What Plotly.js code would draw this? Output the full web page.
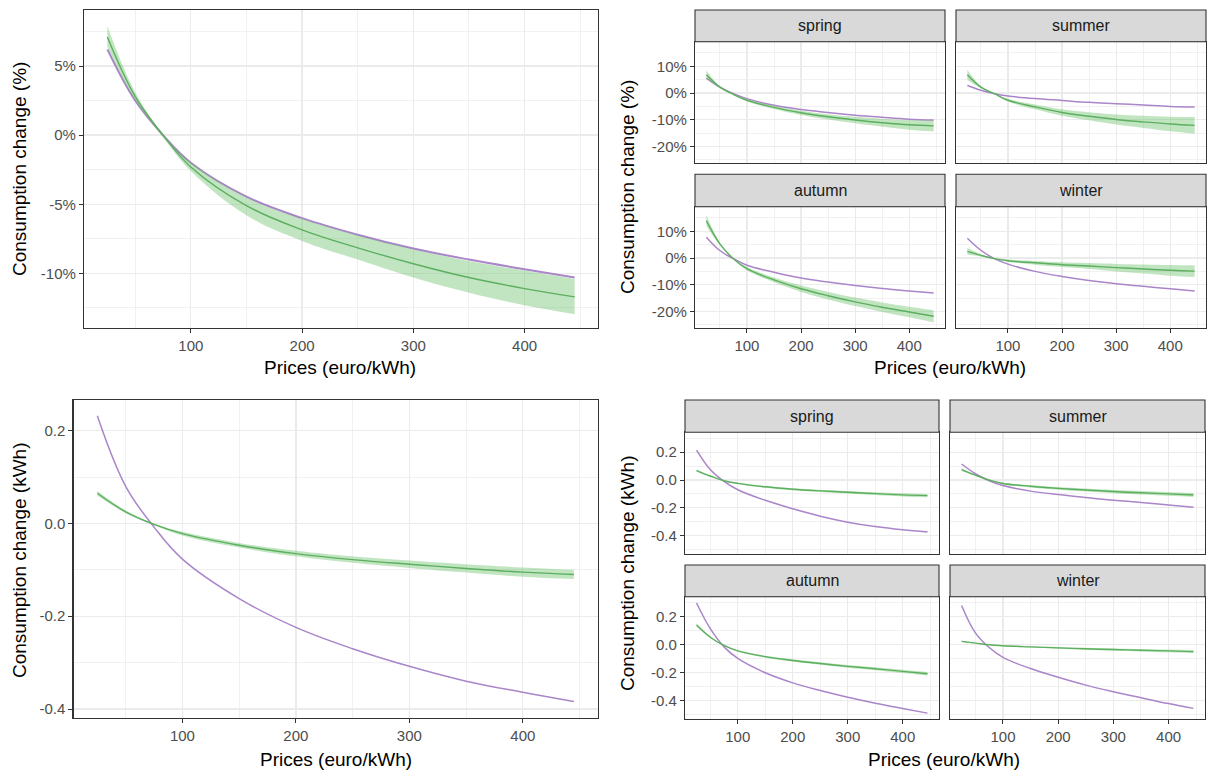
<!DOCTYPE html>
<html>
<head>
<meta charset="utf-8">
<script src="https://cdn.plot.ly/plotly-3.0.1.min.js"></script>
<style>html,body{margin:0;padding:0;background:#fff;}#chart{width:1209px;height:771px;}</style>
</head>
<body>
<div id="chart"></div>
<script>
// ---------------- DATA ----------------
const prices = [25, 50, 75, 100, 150, 200, 250, 300, 350, 400, 445];

// Consumption change (%) - all seasons
const pctAllPurple = [6.2, 2.5, 0.0, -2.0, -4.45, -6.0, -7.2, -8.2, -9.0, -9.7, -10.3];
const pctAllGreen  = [7.1, 2.8, 0.0, -2.3, -5.1, -6.85, -8.15, -9.3, -10.3, -11.1, -11.7];
const pctAllGreenLo = [6.4, 2.5, -0.15, -2.6, -5.8, -7.65, -9.0, -10.3, -11.4, -12.3, -12.95];
const pctAllGreenHi = [7.9, 3.1, 0.1, -1.95, -4.5, -6.05, -7.25, -8.25, -9.1, -9.8, -10.4];

// Consumption change (%) by season
const pctSpringPurple = [5.6, 2.2, -0.25, -2.1, -4.6, -6.2, -7.3, -8.3, -9.1, -9.8, -10.1];
const pctSpringGreen  = [6.8, 2.2, -0.5, -2.7, -5.4, -7.4, -8.9, -10.1, -11.1, -11.9, -12.3];
const pctSpringHalfWidth = [1.6, 0.3, 0.2, 0.4, 0.6, 0.8, 1.0, 1.2, 1.5, 1.8, 2.1];

const pctSummerPurple = [2.8, 1.0, -0.25, -1.1, -2.1, -2.8, -3.5, -4.0, -4.5, -5.0, -5.2];
const pctSummerGreen  = [6.8, 2.2, -0.25, -2.7, -5.2, -7.3, -8.7, -9.9, -10.8, -11.6, -12.1];
const pctSummerHalfWidth = [1.9, 0.4, 0.1, 0.5, 0.9, 1.2, 1.5, 1.9, 2.3, 2.7, 3.1];

const pctAutumnPurple = [7.8, 2.8, -0.25, -2.7, -5.3, -7.5, -9.0, -10.3, -11.4, -12.3, -13.1];
const pctAutumnGreen  = [14.0, 5.3, -0.25, -4.0, -8.2, -11.5, -14.1, -16.4, -18.4, -20.2, -21.8];
const pctAutumnHalfWidth = [2.0, 0.5, 0.2, 0.6, 0.9, 1.2, 1.4, 1.6, 1.8, 2.0, 2.3];

const pctWinterPurple = [7.4, 2.9, -0.25, -2.3, -5.0, -6.9, -8.4, -9.6, -10.6, -11.5, -12.3];
const pctWinterGreen  = [2.5, 1.0, -0.25, -1.0, -1.8, -2.5, -3.0, -3.6, -4.1, -4.6, -4.9];
const pctWinterHalfWidth = [1.3, 0.4, 0.1, 0.4, 0.7, 0.9, 1.1, 1.4, 1.7, 2.0, 2.2];

// Consumption change (kWh) - all seasons
const kwhAllPurple = [0.232, 0.08, -0.008, -0.077, -0.162, -0.224, -0.27, -0.308, -0.34, -0.364, -0.384];
const kwhAllGreen  = [0.065, 0.025, -0.002, -0.022, -0.047, -0.065, -0.078, -0.088, -0.097, -0.105, -0.110];
const kwhAllHalfWidth = [0.005, 0.003, 0.002, 0.004, 0.005, 0.006, 0.007, 0.008, 0.009, 0.01, 0.01];

// Consumption change (kWh) by season
const kwhSpringPurple = [0.215, 0.075, -0.01, -0.07, -0.146, -0.207, -0.26, -0.303, -0.335, -0.358, -0.373];
const kwhSpringGreen  = [0.068, 0.029, -0.005, -0.024, -0.049, -0.066, -0.078, -0.088, -0.098, -0.107, -0.112];
const kwhSpringHalfWidth = [0.008, 0.004, 0.002, 0.004, 0.006, 0.007, 0.008, 0.009, 0.010, 0.011, 0.012];

const kwhSummerPurple = [0.115, 0.045, -0.005, -0.04, -0.08, -0.105, -0.126, -0.145, -0.162, -0.18, -0.195];
const kwhSummerGreen  = [0.075, 0.035, 0.0, -0.025, -0.045, -0.06, -0.072, -0.083, -0.092, -0.1, -0.108];
const kwhSummerHalfWidth = [0.010, 0.005, 0.002, 0.005, 0.008, 0.010, 0.011, 0.012, 0.013, 0.014, 0.015];

const kwhAutumnPurple = [0.298, 0.115, -0.015, -0.098, -0.2, -0.272, -0.327, -0.375, -0.417, -0.455, -0.488];
const kwhAutumnGreen  = [0.141, 0.054, -0.005, -0.044, -0.085, -0.112, -0.134, -0.154, -0.171, -0.19, -0.207];
const kwhAutumnHalfWidth = [0.010, 0.005, 0.002, 0.005, 0.007, 0.008, 0.009, 0.010, 0.011, 0.012, 0.013];

const kwhWinterPurple = [0.28, 0.085, -0.02, -0.09, -0.17, -0.232, -0.288, -0.335, -0.378, -0.42, -0.454];
const kwhWinterGreen  = [0.024, 0.012, 0.0, -0.007, -0.015, -0.022, -0.029, -0.034, -0.039, -0.044, -0.049];
const kwhWinterHalfWidth = [0.004, 0.002, 0.001, 0.003, 0.005, 0.006, 0.007, 0.008, 0.009, 0.010, 0.011];

// Tick labels
const xTickVals = [100, 200, 300, 400];
const xTickText = ['100', '200', '300', '400'];
const pctAllTickVals = [-10, -5, 0, 5];
const pctAllTickText = ['-10%', '-5%', '0%', '5%'];
const pctFacetTickVals = [-20, -10, 0, 10];
const pctFacetTickText = ['-20%', '-10%', '0%', '10%'];
const kwhTickVals = [-0.4, -0.2, 0, 0.2];
const kwhTickText = ['-0.4', '-0.2', '0.0', '0.2'];
const seasons = ['spring', 'summer', 'autumn', 'winter'];

// ---------------- STYLE ----------------
const W = 1209, H = 771;
const fx = v => v / W;
const fy = v => 1 - v / H;
const FONT = 'Liberation Sans, Arial, sans-serif';
const PURPLE = '#AA85C9';
const GREEN = '#5BAF5F';
const RIBBON = 'rgba(102,189,99,0.40)';
const GRID = '#EBEBEB';

const traces = [];
function addPanel(n, purple, green, lo, hi, purpleWidth) {
  const xa = n === 1 ? 'x' : 'x' + n;
  const ya = n === 1 ? 'y' : 'y' + n;
  traces.push({x: prices, y: purple, xaxis: xa, yaxis: ya, type: 'scatter', mode: 'lines',
    line: {color: PURPLE, width: purpleWidth || 1.5, shape: 'spline', smoothing: 1.1}, hoverinfo: 'skip', showlegend: false});
  traces.push({x: prices, y: lo, xaxis: xa, yaxis: ya, type: 'scatter', mode: 'lines',
    line: {color: 'rgba(0,0,0,0)', width: 0, shape: 'spline', smoothing: 1.1}, hoverinfo: 'skip', showlegend: false});
  traces.push({x: prices, y: hi, xaxis: xa, yaxis: ya, type: 'scatter', mode: 'lines', fill: 'tonexty',
    fillcolor: RIBBON, line: {color: 'rgba(0,0,0,0)', width: 0, shape: 'spline', smoothing: 1.1}, hoverinfo: 'skip', showlegend: false});
  traces.push({x: prices, y: green, xaxis: xa, yaxis: ya, type: 'scatter', mode: 'lines',
    line: {color: GREEN, width: 1.4, shape: 'spline', smoothing: 1.1}, hoverinfo: 'skip', showlegend: false});
}
function band(mid, hw, sign) { return mid.map((v, i) => v + sign * hw[i]); }

addPanel(1, pctAllPurple, pctAllGreen, pctAllGreenLo, pctAllGreenHi, 2);
addPanel(2, kwhAllPurple, kwhAllGreen, band(kwhAllGreen, kwhAllHalfWidth, -1), band(kwhAllGreen, kwhAllHalfWidth, 1), 1.5);
const pctFacets = [[pctSpringPurple, pctSpringGreen, pctSpringHalfWidth], [pctSummerPurple, pctSummerGreen, pctSummerHalfWidth],
  [pctAutumnPurple, pctAutumnGreen, pctAutumnHalfWidth], [pctWinterPurple, pctWinterGreen, pctWinterHalfWidth]];
pctFacets.forEach((f, i) => addPanel(3 + i, f[0], f[1], band(f[1], f[2], -1), band(f[1], f[2], 1), 1.5));
const kwhFacets = [[kwhSpringPurple, kwhSpringGreen, kwhSpringHalfWidth], [kwhSummerPurple, kwhSummerGreen, kwhSummerHalfWidth],
  [kwhAutumnPurple, kwhAutumnGreen, kwhAutumnHalfWidth], [kwhWinterPurple, kwhWinterGreen, kwhWinterHalfWidth]];
kwhFacets.forEach((f, i) => addPanel(7 + i, f[0], f[1], band(f[1], f[2], -1), band(f[1], f[2], 1), 1.5));

const tickFont = {family: FONT, size: 15, color: '#4D4D4D'};
function xAxis(d, anchor, labels) {
  return {domain: [fx(d[0]), fx(d[1])], anchor: anchor, range: [4, 466], tickmode: 'array',
    tickvals: xTickVals, ticktext: xTickText, showticklabels: labels, ticks: labels ? 'outside' : '',
    ticklen: 4, tickwidth: 1, tickcolor: '#333333', tickfont: tickFont,
    showline: true, mirror: true, linecolor: '#333333', linewidth: 1.1,
    showgrid: true, gridcolor: GRID, gridwidth: 1.3, zeroline: false, fixedrange: true,
    minor: {tickmode: 'array', tickvals: [50, 150, 250, 350, 450], showgrid: true, gridcolor: GRID, gridwidth: 0.7, ticks: ''}};
}
function yAxis(d, anchor, range, tv, tt, minorVals, labels) {
  return {domain: [fy(d[1]), fy(d[0])], anchor: anchor, range: range, tickmode: 'array',
    tickvals: tv, ticktext: tt, showticklabels: labels, ticks: labels ? 'outside' : '',
    ticklen: 4, tickwidth: 1, tickcolor: '#333333', tickfont: tickFont,
    showline: true, mirror: true, linecolor: '#333333', linewidth: 1.1,
    showgrid: true, gridcolor: GRID, gridwidth: 1.3, zeroline: false, fixedrange: true,
    minor: {tickmode: 'array', tickvals: minorVals, showgrid: true, gridcolor: GRID, gridwidth: 0.7, ticks: ''}};
}

const layout = {
  width: W, height: H, margin: {l: 0, r: 0, t: 0, b: 0}, paper_bgcolor: '#ffffff', plot_bgcolor: '#ffffff',
  font: {family: FONT}, showlegend: false, shapes: [], annotations: []
};
const pctMinor = [-12.5, -7.5, -2.5, 2.5, 7.5];
const pctFacetMinor = [-25, -15, -5, 5, 15];
const kwhMinor = [-0.3, -0.1, 0.1];
const kwhFacetMinor = [-0.5, -0.3, -0.1, 0.1, 0.3];

layout.xaxis = xAxis([84, 598], 'y', true);
layout.yaxis = yAxis([10, 328], 'x', [-13.95, 9.05], pctAllTickVals, pctAllTickText, pctMinor, true);
layout.xaxis2 = xAxis([73.5, 597.7], 'y2', true);
layout.yaxis2 = yAxis([400, 718.3], 'x2', [-0.42, 0.266], kwhTickVals, kwhTickText, kwhMinor, true);

const trCols = [[695, 945], [956, 1206]];
const trRows = [[41.7, 163.3], [206.7, 328.3]];
const trStrips = [[10, 41.7], [174.3, 206.7]];
const brCols = [[685, 939], [950, 1205]];
const brRows = [[432.3, 554], [596.7, 719.3]];
const brStrips = [[400, 432.3], [565, 596.7]];

for (let i = 0; i < 4; i++) {
  const r = Math.floor(i / 2), c = i % 2;
  let n = 3 + i;
  layout['xaxis' + n] = xAxis(trCols[c], 'y' + n, r === 1);
  layout['yaxis' + n] = yAxis(trRows[r], 'x' + n, [-26.3, 19.2], pctFacetTickVals, pctFacetTickText, pctFacetMinor, c === 0);
  layout.shapes.push({type: 'rect', xref: 'paper', yref: 'paper', x0: fx(trCols[c][0]), x1: fx(trCols[c][1]),
    y0: fy(trStrips[r][1]), y1: fy(trStrips[r][0]), fillcolor: '#D9D9D9', line: {color: '#333333', width: 1.1}});
  layout.annotations.push({xref: 'paper', yref: 'paper', x: fx((trCols[c][0] + trCols[c][1]) / 2),
    y: fy((trStrips[r][0] + trStrips[r][1]) / 2), text: seasons[i], showarrow: false, xanchor: 'center', yanchor: 'middle',
    font: {family: FONT, size: 16, color: '#1A1A1A'}});
  n = 7 + i;
  layout['xaxis' + n] = xAxis(brCols[c], 'y' + n, r === 1);
  layout['yaxis' + n] = yAxis(brRows[r], 'x' + n, [-0.532, 0.343], kwhTickVals, kwhTickText, kwhFacetMinor, c === 0);
  layout.shapes.push({type: 'rect', xref: 'paper', yref: 'paper', x0: fx(brCols[c][0]), x1: fx(brCols[c][1]),
    y0: fy(brStrips[r][1]), y1: fy(brStrips[r][0]), fillcolor: '#D9D9D9', line: {color: '#333333', width: 1.1}});
  layout.annotations.push({xref: 'paper', yref: 'paper', x: fx((brCols[c][0] + brCols[c][1]) / 2),
    y: fy((brStrips[r][0] + brStrips[r][1]) / 2), text: seasons[i], showarrow: false, xanchor: 'center', yanchor: 'middle',
    font: {family: FONT, size: 16, color: '#1A1A1A'}});
}

const titleFont = {family: FONT, size: 19, color: '#000000'};
function addTitle(text, x, y, angle) {
  layout.annotations.push({xref: 'paper', yref: 'paper', x: fx(x), y: fy(y), text: text, showarrow: false,
    xanchor: 'center', yanchor: 'middle', textangle: angle, font: titleFont});
}
const xTitle = 'Prices (euro/kWh)';
const yTitlePct = 'Consumption change (%)';
const yTitleKwh = 'Consumption change (kWh)';
addTitle(xTitle, 340, 367, 0);
addTitle(yTitlePct, 19, 169, -90);
addTitle(xTitle, 336, 759, 0);
addTitle(yTitleKwh, 19, 560, -90);
addTitle(xTitle, 950, 367, 0);
addTitle(yTitlePct, 627, 187, -90);
addTitle(xTitle, 944, 759, 0);
addTitle(yTitleKwh, 627, 573, -90);

Plotly.newPlot('chart', traces, layout, {displayModeBar: false, staticPlot: true});
</script>
</body>
</html>
